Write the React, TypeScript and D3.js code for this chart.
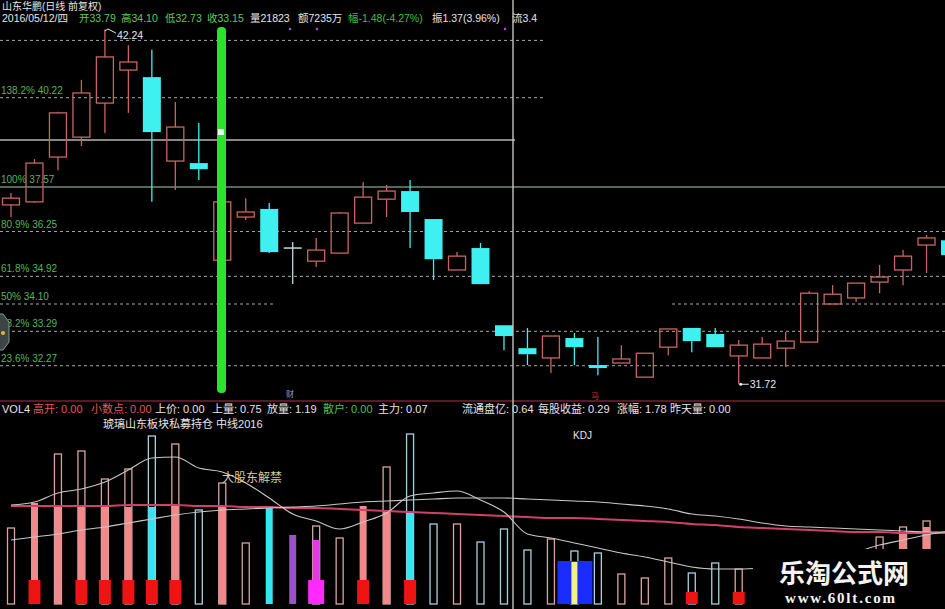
import React from "react";
import * as d3 from "d3";

const FONT = "'Liberation Sans','Noto Sans CJK SC',sans-serif";

// ---- price candles (index 0..40) ----
const opens  = [37.04,37.13,38.46,39.05,40.06,41.04,40.83,38.34,38.28,35.40,36.68,36.92,35.76,35.37,35.61,36.50,37.21,37.45,36.62,35.11,35.76,33.47,32.79,32.50,33.09,32.29,32.35,31.93,32.82,33.39,33.21,32.56,32.50,32.79,32.97,34.10,34.28,34.75,35.11,35.85,35.99];
const highs  = [37.39,38.40,39.80,40.75,42.24,41.78,41.64,40.09,39.47,37.13,37.24,37.10,35.94,36.06,36.83,37.72,37.63,37.78,36.62,35.64,35.91,33.47,33.39,33.15,33.24,33.12,32.88,32.64,33.36,33.39,33.39,33.03,33.12,33.27,34.48,34.66,34.72,35.26,35.70,36.15,36.00];
const lows   = [36.68,37.10,38.07,38.79,39.17,39.77,37.13,37.48,37.78,35.40,36.59,35.61,34.69,35.20,35.61,36.50,36.68,35.76,34.81,35.11,34.69,32.73,32.29,32.05,32.29,31.99,32.35,31.93,32.58,32.67,32.82,31.72,32.50,32.23,32.97,34.10,34.16,34.42,34.66,35.02,35.50];
const closes = [37.24,38.28,39.77,40.36,41.43,41.28,39.20,39.35,38.10,37.13,36.83,35.64,35.76,35.70,36.80,37.27,37.45,36.83,35.43,35.52,34.69,33.15,32.61,33.15,32.82,32.20,32.47,32.64,33.36,33.00,32.82,32.88,32.91,33.00,34.42,34.39,34.72,34.90,35.52,36.06,35.55];

// ---- fibonacci levels ----
const fibPct = ["161.8%","138.2%","100%","80.9%","61.8%","50%","38.2%","23.6%"];
const fibVal = [41.92,40.22,37.57,36.25,34.92,34.10,33.29,32.27];
const fibShowLabel = [false,true,true,true,true,true,true,true];

// ---- volume panel (units) ----
const volTop  = [76,101,150,153,125,135,168,160,94,121,61,98,69,78,66,98,137,170,80,80,62,75,54,65,53,51,30,26,46,31,41,35,40,44,36,50,45,67,77,83,85];
const volFill = [0,101,97,97,97,97,97,99,0,97,0,98,69,64,0,98,94,92,0,0,0,0,0,0,42,0,0,0,0,0,0,0,0,0,0,0,0,0,72,77,80];
const volFillKind = ["","p","p","p","p","p","c","p","","p","","c","u","m","","p","p","c","","","","","","","y","","","","","","","","","","","","","","p","p","p"];
const volBlock = ["","r","","r","r","r","r","r","","","","","","M","","r","","r","","","","","","","B","","","","","s","","s","","","","","","","","",""];

const ma1 = [99,102,111,115,122,134,146,147,136,132,121,106,90,83,75,82,91,108,111,113,104,92,70,66,61,56,51,47,42,37,35,35,36,38,42,47,52,59,64,69,73];
const ma2 = [64,67,70,74,77,81,85,89,92,94,95,96,97,98,100,102,103,104,105,106,106,106,105,104,103,102,100,98,95,90,88,85,81,78,77,76,75,74,73,72,72];
const ma3 = [98,98,98,98,98,99,99,99,98,98,97,97,96,96,95,94,93,92,91,90,89,88,87,86,86,85,84,83,82,80,79,77,76,75,74,73,72,72,71,71,71];

// ---- header texts ----
const titleText = "山东华鹏(日线 前复权)";
const infoTexts = ["2016/05/12/四","开33.79","高34.10","低32.73","收33.15","量21823","额7235万","幅-1.48(-4.27%)","振1.37(3.96%)","流3.4"];
const infoColors = ["#e6e6e6","#62c862","#62c862","#62c862","#62c862","#e6e6e6","#e6e6e6","#3cc03c","#e6e6e6","#e6e6e6"];
const infoX = [2,79,121,165,207,250,298,348,432,512];

const volTexts = ["VOL4","高开: 0.00","小数点: 0.00","上价: 0.00","上量: 0.75","放量: 1.19","散户: 0.00","主力: 0.07","流通盘亿: 0.64","每股收益: 0.29","涨幅: 1.78","昨天量: 0.00"];
const volColors = ["#e6e6e6","#e05a5a","#e05a5a","#e6e6e6","#e6e6e6","#e6e6e6","#4cc04c","#e6e6e6","#e6e6e6","#e6e6e6","#e6e6e6","#e6e6e6"];
const volX = [2,33,91,155,212,267,323,378,462,538,617,670];

export default function App() {
  const x = d3.scaleLinear().domain([0, 40]).range([11, 950]);
  const yP = d3.scaleLinear().domain([32.27, 40.22]).range([365.7, 97.7]);
  const yV = d3.scaleLinear().domain([0, 180]).range([604, 424]);
  const idx = d3.range(opens.length);

  const fibSpans: number[][][] = [
    [[0, 545]], [[0, 545]], [[0, 945]], [[0, 945]], [[0, 945]],
    [[0, 275], [672, 945]], [[0, 945]], [[0, 945]],
  ];

  const upRed = "#c96464";
  const cyan = "#3ff0f0";
  const fillColors: Record<string, string> = { p: "#f08a8a", c: "#35e6f0", u: "#9a52c8", m: "#e03ae0", y: "#f2f08a" };

  const line = d3.line<number>().x((_, i) => x(i)).y((d) => yV(d)).curve(d3.curveMonotoneX);

  const ma1Path = line(ma1) || "";
  const ma2Path = line(ma2) || "";
  const ma3Path = line(ma3) || "";

  return (
    <svg width={945} height={609} style={{ position: "absolute", left: 0, top: 0, background: "#000" }} fontFamily={FONT}>
      <rect x={0} y={0} width={945} height={609} fill="#000" />

      {/* fib lines */}
      {fibVal.map((v, k) =>
        fibSpans[k].map((s, j) => (
          <line key={`f${k}-${j}`} x1={s[0]} x2={s[1]} y1={yP(v)} y2={yP(v)}
            stroke={fibPct[k] === "100%" ? "#6c8c78" : "#a8a8a8"}
            strokeWidth={fibPct[k] === "100%" ? 1.6 : 1}
            strokeDasharray={fibPct[k] === "100%" ? undefined : "3,3"} />
        ))
      )}
      {fibVal.map((v, k) => fibShowLabel[k] ? (
        <text key={`fl${k}`} x={1} y={yP(v) - 4} fontSize={10} fill="#58b458">{`${fibPct[k]} ${v.toFixed(2)}`}</text>
      ) : null)}

      {/* crosshair horizontal */}
      <line x1={0} x2={515} y1={140} y2={140} stroke="#b4b4b4" strokeWidth={1.3} />

      {/* candles */}
      {idx.map((i) => {
        const o = opens[i], c = closes[i], h = highs[i], l = lows[i];
        const cx = x(i);
        const up = c > o;
        const doji = c === o;
        const top = yP(Math.max(o, c));
        const bot = yP(Math.min(o, c));
        const col = doji ? "#c4d8d8" : up ? upRed : cyan;
        return (
          <g key={`c${i}`}>
            <line x1={cx} x2={cx} y1={yP(h)} y2={top} stroke={col} strokeWidth={1.3} />
            <line x1={cx} x2={cx} y1={bot} y2={yP(l)} stroke={col} strokeWidth={1.3} />
            {doji ? (
              <line x1={cx - 9} x2={cx + 9} y1={top} y2={top} stroke={col} strokeWidth={1.5} />
            ) : up ? (
              <rect x={cx - 8.5} y={top} width={17} height={Math.max(bot - top, 1)} fill="none" stroke={col} strokeWidth={1.3} />
            ) : (
              <rect x={cx - 9} y={top} width={18} height={Math.max(bot - top, 2)} fill={col} />
            )}
          </g>
        );
      })}

      {/* high / low markers */}
      <polyline points={`${x(4)},31 ${x(4) + 3},29 ${x(4) + 11},33`} fill="none" stroke="#e8e8e8" strokeWidth={1} />
      <text x={x(4) + 12} y={39} fontSize={10.5} fill="#e8e8e8">42.24</text>
      <circle cx={x(31) + 2} cy={yP(31.72)} r={1.5} fill="#e8e8e8" />
      <line x1={x(31) + 2} x2={x(31) + 10} y1={yP(31.72)} y2={yP(31.72)} stroke="#e8e8e8" />
      <text x={x(31) + 11} y={yP(31.72) + 4} fontSize={10.5} fill="#e8e8e8">31.72</text>

      {/* left octagon marker */}
      <polygon points="-6,314 3,314 9,322 9,342 3,350 -6,350" fill="#3c4444" stroke="#8a9494" strokeWidth={1} />
      <circle cx={3} cy={333} r={2} fill="#e0c020" />

      {/* small icons */}
      <circle cx={290} cy={29} r={1.3} fill="#a84cc8" />
      <circle cx={317} cy={29} r={1.3} fill="#a84cc8" />
      <circle cx={505} cy={29} r={1.3} fill="#a84cc8" />
      <text x={286} y={397} fontSize={8} fill="#8aa0d0">财</text>
      <text x={591} y={399} fontSize={8} fill="#d03030">马</text>

      {/* big green bar */}
      <rect x={217} y={27} width={9} height={366} rx={4} fill="#30e030" />
      <rect x={218} y={129} width={6} height={6} fill="#e8ffe8" />

      {/* header */}
      <text x={2} y={10} fontSize={10} fill="#e6e6e6">{titleText}</text>
      {infoTexts.map((t, k) => (
        <text key={`h${k}`} x={infoX[k]} y={22} fontSize={10.5} fill={infoColors[k]}>{t}</text>
      ))}

      {/* panel divider */}
      <line x1={0} x2={945} y1={401} y2={401} stroke="#7a2030" strokeWidth={1.5} />

      {/* volume bars */}
      {idx.map((i) => {
        const cx = x(i);
        const up = closes[i] >= opens[i];
        const outline = up ? "#d8a4a4" : "#a6d2de";
        const els: any[] = [];
        if (volTop[i] > volFill[i]) {
          els.push(<rect key="o" x={cx - 3.5} y={yV(volTop[i])} width={7} height={604 - yV(volTop[i])} fill="none" stroke={outline} strokeWidth={1.3} />);
        }
        if (volFill[i] > 0) {
          els.push(<rect key="f" x={cx - 3.5} y={yV(volFill[i])} width={7} height={604 - yV(volFill[i])} fill={fillColors[volFillKind[i]]} />);
        }
        const b = volBlock[i];
        if (b === "r") els.push(<rect key="b" x={cx - 6} y={yV(24)} width={12} height={604 - yV(24)} fill="#ee1414" />);
        if (b === "s") els.push(<rect key="b" x={cx - 6} y={yV(12)} width={12} height={604 - yV(12)} fill="#ee1414" />);
        if (b === "M") els.push(<rect key="b" x={cx - 8} y={yV(24)} width={16} height={604 - yV(24)} fill="#ff2aff" />);
        if (b === "B") {
          els.push(<rect key="b" x={cx - 17} y={yV(43)} width={35} height={604 - yV(43)} fill="#1a2cff" />);
          els.push(<rect key="by" x={cx - 3} y={yV(volFill[i])} width={6} height={604 - yV(volFill[i])} fill="#f2f08a" />);
        }
        return <g key={`v${i}`}>{els}</g>;
      })}

      {/* volume lines */}
      <path d={ma3Path} fill="none" stroke="#d0406c" strokeWidth={2} />
      <path d={ma2Path} fill="none" stroke="#c8c8c8" strokeWidth={1.1} />
      <path d={ma1Path} fill="none" stroke="#c8c8c8" strokeWidth={1.1} />

      {/* volume texts */}
      {volTexts.map((t, k) => (
        <text key={`vt${k}`} x={volX[k]} y={413} fontSize={11} fill={volColors[k]}>{t}</text>
      ))}
      <text x={103} y={428} fontSize={11} fill="#e6e6e6">琥璃山东板块私募持仓 中线2016</text>
      <text x={573} y={439} fontSize={10} fill="#e6e6e6">KDJ</text>
      <text x={222} y={482} fontSize={12} fill="#d8cc98">大股东解禁</text>

      {/* crosshair vertical */}
      <line x1={513} x2={513} y1={0} y2={609} stroke="#c4c4c4" strokeWidth={1.4} />

      {/* watermark */}
      <rect x={753} y={549} width={192} height={60} fill="#000" />
      <text x={779} y={583} fontSize={26} fontWeight="bold" fill="#f4f4f4" fontFamily="'Noto Sans CJK SC',sans-serif">乐淘公式网</text>
      <text x={785} y={603} fontSize={15} fontWeight="bold" fill="#f4f4f4" fontFamily="'Liberation Serif','DejaVu Serif',serif" textLength={110}>www.60lt.com</text>
    </svg>
  );
}
